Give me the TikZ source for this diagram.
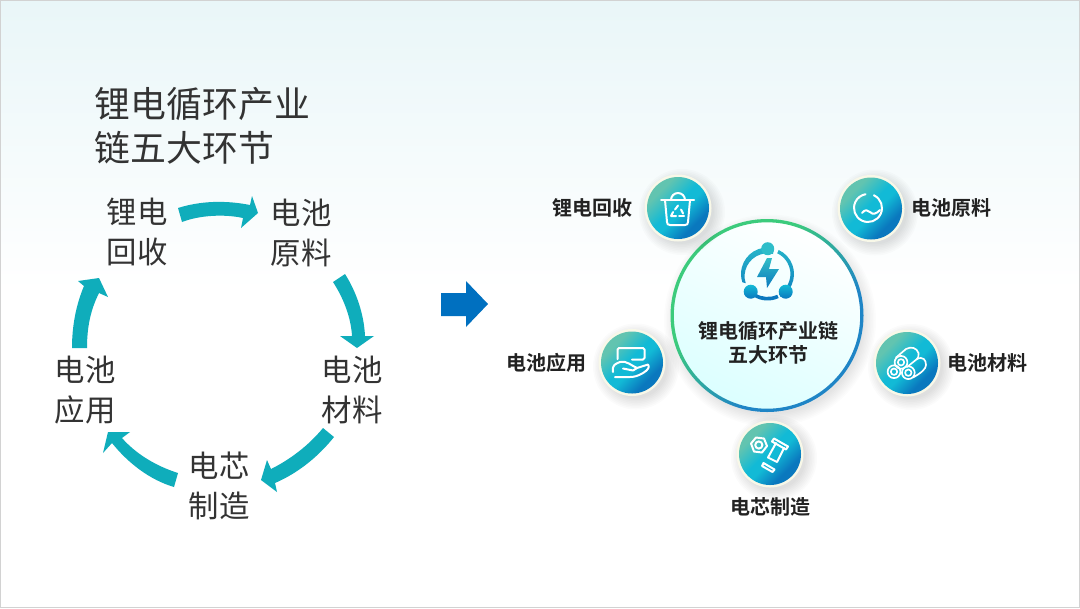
\documentclass[tikz,border=0pt]{standalone}
\usepackage{fontspec}
\setmainfont{Noto Sans CJK SC}[BoldFont={Noto Sans CJK SC Bold}]
\usetikzlibrary{calc}
\definecolor{teal1}{HTML}{0FADBB}
\definecolor{tx}{HTML}{333333}
\definecolor{dk}{HTML}{222222}
\definecolor{dA}{HTML}{62C4B0}
\definecolor{dB}{HTML}{12BAD6}
\definecolor{dC}{HTML}{0A78BE}
\definecolor{cream}{HTML}{F8F8E8}
\definecolor{bar}{HTML}{0070C0}
\definecolor{bgtop}{HTML}{E9F6F8}
\definecolor{rgA}{HTML}{3CCB7C}
\definecolor{rgB}{HTML}{1F85C6}
\pgfdeclareverticalshading{discsh}{100bp}{color(0bp)=(dC); color(31bp)=(dC); color(46bp)=(dB); color(53bp)=(dB); color(70bp)=(dA); color(100bp)=(dA)}
\pgfdeclareverticalshading{ringsh}{100bp}{color(0bp)=(rgB); color(38bp)=(rgB); color(62bp)=(rgA); color(100bp)=(rgA)}
\tikzset{
  x=0.75pt,y=-0.75pt,
  bigtxt/.style={font=\fontsize{22.8}{30}\selectfont,text=tx,align=center,inner sep=0pt},
  lab/.style={font=\fontsize{15}{18}\selectfont\bfseries,text=dk,align=center,inner sep=0pt},
  ar/.style={fill=teal1,draw=none},
  ic/.style={draw=white,line width=1.5pt,line cap=round,line join=round},
  icthin/.style={ic,line width=1.25pt},
}
\newcommand{\softshadow}[3]{%
  \foreach \k in {0,1,...,7}{\fill[black,opacity=0.014] ($(#1)+(#2,#2)$) circle ({#3+10-\k*1.6});}%
}
\newcommand{\disc}[2]{%
  \softshadow{#1}{4}{33}
  \fill[cream] (#1) circle (33.5);
  \shade[shading=discsh,shading angle=45] (#1) circle (#2);
}
\begin{document}
\begin{tikzpicture}
\useasboundingbox (0,0) rectangle (1080,608);
% background
\fill[white] (0,0) rectangle (1080,608);
\shade[top color=bgtop,bottom color=white] (0,0) rectangle (1080,290);
\draw[color=gray!35,line width=0.8pt] (0.5,0.5) rectangle (1079.5,607.5);

% left: title
\node[bigtxt,font=\fontsize{26.9}{33}\selectfont,align=left,anchor=west] (title) at (94.5,126) {锂电循环产业\\链五大环节};

% left: labels
\node[bigtxt] (l1) at (137,232) {锂电\\回收};
\node[bigtxt] (l2) at (301,233) {电池\\原料};
\node[bigtxt] (l3) at (352,390) {电池\\材料};
\node[bigtxt] (l4) at (219,486) {电芯\\制造};
\node[bigtxt] (l5) at (85,390) {电池\\应用};

% left: curved arrows
\fill[ar] (178,208) .. controls (200,201) and (225,200) .. (250,205) -- (252,196) -- (258,213) -- (241,228) -- (243,218) .. controls (225,214) and (200,215) .. (182,222) -- cycle;
\fill[ar] (333,282) -- (345,274) .. controls (357,293) and (364,315) .. (365,336) -- (374,336) -- (357,348) -- (340,336) -- (352,336) .. controls (351,318) and (344,299) .. (333,282) -- cycle;
\fill[ar] (334,437) -- (323,428) .. controls (309,445) and (291,459) .. (271,469) -- (267,460) -- (261,480) -- (277,492) -- (275,483) .. controls (298,473) and (318,457) .. (334,437) -- cycle;
\fill[ar] (178,473) -- (174,487) .. controls (150,480) and (128,463) .. (112,443) -- (103,453) -- (108,432) -- (130,432) -- (122,438) .. controls (136,454) and (156,466) .. (178,473) -- cycle;
\fill[ar] (72,348) -- (87,348) .. controls (87,326) and (91,309) .. (99,293) -- (108,297) -- (99,278) -- (78,281) -- (84,286) .. controls (76,305) and (72,326) .. (72,348) -- cycle;

% middle arrow
\fill[bar] (441,293) -- (466,293) -- (466,281) -- (488,304) -- (466,327) -- (466,316) -- (441,316) -- cycle;

% centre circle
\coordinate (cc) at (767,315.5);
\foreach \k in {0,1,...,8}{\fill[black,opacity=0.01] ($(cc)+(3,5)$) circle ({96+10-\k*1.5});}
\shade[left color=white,right color=white!86!cyan,shading angle=-25] (cc) circle (94);
\shade[even odd rule,shading=ringsh,shading angle=45] (cc) circle (96.5) (cc) circle (93.2);

% centre icon
\coordinate (ci) at (767.5,274);
\begin{scope}
\clip (ci) ++(-76:26.5) arc (-76:-198:26.5) -- ++(18:3.6) arc (-198:-76:22.9) -- cycle;
\shade[top color=dB!70!dA,bottom color=dC] (735,240) rectangle (800,302);
\end{scope}
\begin{scope}
\clip (ci) ++(-65:26.5) arc (-65:60:26.5) -- ($(ci)+(60:22.9)$) arc (60:-65:22.9) -- cycle;
\shade[top color=dB!70!dA,bottom color=dC] (735,240) rectangle (800,302);
\end{scope}
\begin{scope}
\clip (ci) ++(65:26.5) arc (65:122:26.5) -- ($(ci)+(122:22.9)$) arc (122:65:22.9) -- cycle;
\fill[dC] (735,240) rectangle (800,305);
\end{scope}
\fill[dB!65!dA] (767.7,248.7) circle (6.5);
\shade[top color=dB,bottom color=dC] (750.7,291.7) circle (7);
\shade[top color=dB,bottom color=dC] (785.7,291.7) circle (7);
\shade[top color=dA!40!dB,bottom color=dC] (767,258) -- (757,277) -- (766,277) -- (767,288) -- (779,269) -- (769,269) -- (772,258) -- cycle;
\node[lab] (ct) at (768,343) {锂电循环产业链\\五大环节};

% satellites
\coordinate (s1) at (678,208);
\coordinate (s2) at (871,208.5);
\coordinate (s3) at (632,362.5);
\coordinate (s4) at (907,363);
\coordinate (s5) at (770,454);
\disc{s1}{31}
\disc{s2}{31}
\disc{s3}{31}
\disc{s4}{31}
\disc{s5}{31}

% icon 1: bin
\draw[ic] (661,200) -- (694,200);
\draw[ic] (671,200) arc (180:360:7);
\draw[ic] (665,200) -- (667,222) .. controls (667,224) and (668,225) .. (670,225) -- (685,225) .. controls (687,225) and (688,224) .. (688,222) -- (690,200);
\draw[ic] (675,209.5) -- (678,205.5) (681,209.5) -- (683,213.5);
\draw[ic] (679,216) -- (684,216);
\draw[ic] (671,216) -- (676,216) (671,216) -- (673,212);

% icon 2: water
\draw[ic] (873.9,195.3) arc (-65:260:14);
\draw[ic] (862,213) .. controls (865,209) and (868,210) .. (870,212) .. controls (873,215) and (876,214) .. (880,210);

% icon 3: hand
\draw[ic] (617.5,359) -- (617.5,349.5) .. controls (617.5,348.5) and (618,348) .. (619,348) -- (643,348) .. controls (644,348) and (644.5,348.5) .. (644.5,349.5) -- (644.5,358) .. controls (644.5,359) and (644,359.5) .. (643,359.5) -- (632,359.5);
\draw[ic] (613,372) .. controls (612,365) and (615,364) .. (620,362) .. controls (626,360) and (632,366) .. (637,368) -- (633,370.5) -- (623,368.5);
\draw[ic] (637,368) -- (648,364.5) .. controls (650,367) and (648,370) .. (643,373) .. controls (638,376) and (634,377) .. (630,377) -- (615,377);

% icon 4: cylinders
\draw[icthin] (901,362.3) circle (6.4) (901,362.3) circle (3.2);
\draw[icthin] (894,371.7) circle (6.4) (894,371.7) circle (3.2);
\draw[icthin] (908.3,372.7) circle (6.4) (908.3,372.7) circle (3.2);
\draw[icthin] (896,357.5) -- (906,349) .. controls (911,346) and (917,348) .. (918.5,353) .. controls (919,356) and (918,358) .. (917,359) -- (907,367);
\draw[icthin] (917,359) .. controls (923,356) and (926,360) .. (926,365) .. controls (926,369) and (921,373) .. (913,377.5);

% icon 5: nut and bolt
\draw[ic] (751,443.5) -- (756,437.5) -- (764,438.5) -- (767,446) -- (762,452.5) -- (754,451.5) -- cycle;
\draw[ic] (758.8,445) circle (3.6);
\draw[ic] (774,438.5) -- (788,446.5) -- (786,449.5) -- (772,441.5) -- cycle;
\draw[ic] (776,443) -- (768,457.5) -- (777,462) -- (784,448);
\draw[ic] (763.5,463) -- (774.5,469.5) -- (772.5,472) -- (762,466) -- cycle;

% satellite labels
\node[lab] (t1) at (592,208) {锂电回收};
\node[lab] (t2) at (951,208) {电池原料};
\node[lab] (t3) at (546,363) {电池应用};
\node[lab] (t4) at (987,363) {电池材料};
\node[lab] (t5) at (770,507) {电芯制造};
\end{tikzpicture}
\end{document}
